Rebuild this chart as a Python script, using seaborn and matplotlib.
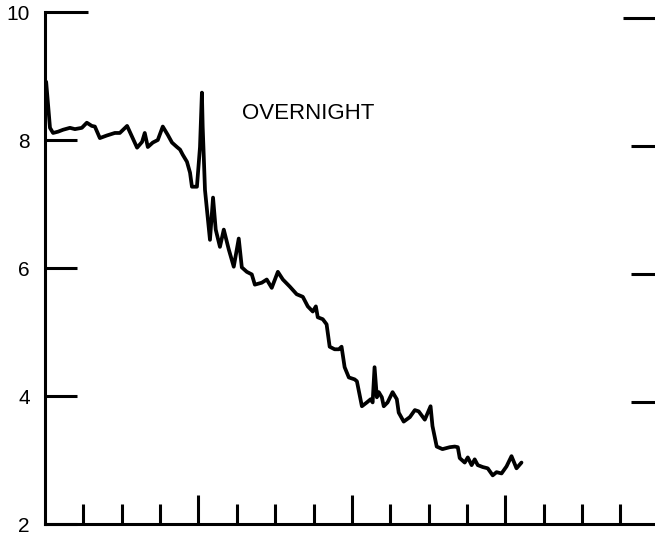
import seaborn as sns
import pandas as pd
import numpy as np
import matplotlib.pyplot as plt
from matplotlib.ticker import FixedLocator, NullFormatter

# traced series (x in tick units, y on 2-10 scale)
hours = [0.03, 0.13, 0.21, 0.34, 0.47, 0.65, 0.78, 0.96, 1.09, 1.22, 1.30, 1.43, 1.61, 1.82,
         1.95, 2.14, 2.27, 2.40, 2.53, 2.60, 2.68, 2.81, 2.94, 3.07, 3.20, 3.31, 3.44, 3.52,
         3.59, 3.70, 3.78, 3.83, 3.96, 4.04, 4.09, 4.11, 4.17, 4.30, 4.38, 4.45, 4.56, 4.66,
         4.79, 4.92, 5.05, 5.13, 5.26, 5.39, 5.47, 5.65, 5.78, 5.91, 6.07, 6.20, 6.38, 6.56,
         6.72, 6.85, 6.98, 7.06, 7.11, 7.24, 7.34, 7.42, 7.55, 7.66, 7.73, 7.81, 7.92, 8.07,
         8.13, 8.26, 8.39, 8.49, 8.54, 8.59, 8.65, 8.70, 8.78, 8.83, 8.93, 9.06, 9.17, 9.22,
         9.35, 9.51, 9.64, 9.74, 9.90, 10.05, 10.10, 10.21, 10.36, 10.55, 10.68, 10.76, 10.81,
         10.94, 11.02, 11.12, 11.20, 11.28, 11.41, 11.54, 11.67, 11.77, 11.90, 12.03, 12.16,
         12.29, 12.42]
values = [8.91, 8.19, 8.11, 8.13, 8.16, 8.19, 8.17, 8.19, 8.27, 8.22, 8.21, 8.03, 8.07, 8.11,
          8.11, 8.22, 8.05, 7.88, 7.97, 8.11, 7.89, 7.96, 8.00, 8.21, 8.08, 7.96, 7.89, 7.85,
          7.77, 7.66, 7.49, 7.27, 7.27, 7.89, 8.74, 8.21, 7.22, 6.44, 7.10, 6.60, 6.33, 6.60,
          6.29, 6.02, 6.46, 6.01, 5.94, 5.90, 5.74, 5.77, 5.82, 5.69, 5.94, 5.82, 5.71, 5.59,
          5.55, 5.40, 5.32, 5.40, 5.23, 5.20, 5.12, 4.77, 4.73, 4.73, 4.77, 4.45, 4.29, 4.26,
          4.23, 3.84, 3.90, 3.95, 3.90, 4.45, 3.98, 4.06, 3.98, 3.84, 3.90, 4.06, 3.95, 3.74,
          3.60, 3.67, 3.78, 3.76, 3.63, 3.84, 3.53, 3.21, 3.17, 3.20, 3.21, 3.20, 3.03,
          2.96, 3.04, 2.92, 3.01, 2.92, 2.89, 2.87, 2.76, 2.81, 2.79, 2.90, 3.06,
          2.87, 2.96]

y_ticks = [2, 4, 6, 8, 10]
right_ticks = [3.9, 5.9, 7.9]

sns.set_style("ticks", {"axes.edgecolor": "black", "xtick.color": "black",
                        "ytick.color": "black", "text.color": "black"})
plt.rcParams['font.family'] = ['Liberation Sans', 'DejaVu Sans']

fig = plt.figure(figsize=(6.55, 5.34), dpi=100)
ax = fig.add_axes([45 / 655, 10 / 534, 610 / 655, 512 / 534])

df = pd.DataFrame({"x": hours, "y": values})
sns.lineplot(data=df, x="x", y="y", sort=False, estimator=None, color="black",
             linewidth=2.7, ax=ax)

ax.set_xlim(0, 15.9)
ax.set_ylim(2, 10)
ax.set_xlabel("")
ax.set_ylabel("")
for s in ["top", "right"]:
    ax.spines[s].set_visible(False)
for s in ["left", "bottom"]:
    ax.spines[s].set_linewidth(2.2)

ax.set_yticks(y_ticks)
ax.set_yticklabels([str(t) for t in y_ticks])
ax.tick_params(axis="y", which="major", direction="in", length=23, width=2.2,
               labelsize=15, labelcolor="black", pad=11)
# top tick is longer than the others
ax.yaxis.get_major_ticks()[-1].tick1line.set_markersize(31)

ax.set_xticks([4, 8, 12])
ax.set_xticklabels([])
ax.xaxis.set_minor_locator(FixedLocator([1, 2, 3, 5, 6, 7, 9, 10, 11, 13, 14, 15]))
ax.tick_params(axis="x", which="major", direction="in", length=21, width=2.2)
ax.tick_params(axis="x", which="minor", direction="in", length=14.5, width=2.2)

# short unlabeled marks on the right edge
ax2 = ax.twinx()
ax2.set_ylim(2, 10)
for s in ax2.spines.values():
    s.set_visible(False)
ax2.set_yticks(right_ticks)
ax2.set_yticklabels([])
ax2.yaxis.set_minor_locator(FixedLocator([9.9]))
ax2.tick_params(axis="y", which="major", direction="in", length=17, width=2.2)
ax2.tick_params(axis="y", which="minor", direction="in", length=23, width=2.2)

ax.text(5.13, 8.42, "OVERNIGHT", fontsize=16, va="center", ha="left", color="black")

fig.savefig("out.png", dpi=100)
